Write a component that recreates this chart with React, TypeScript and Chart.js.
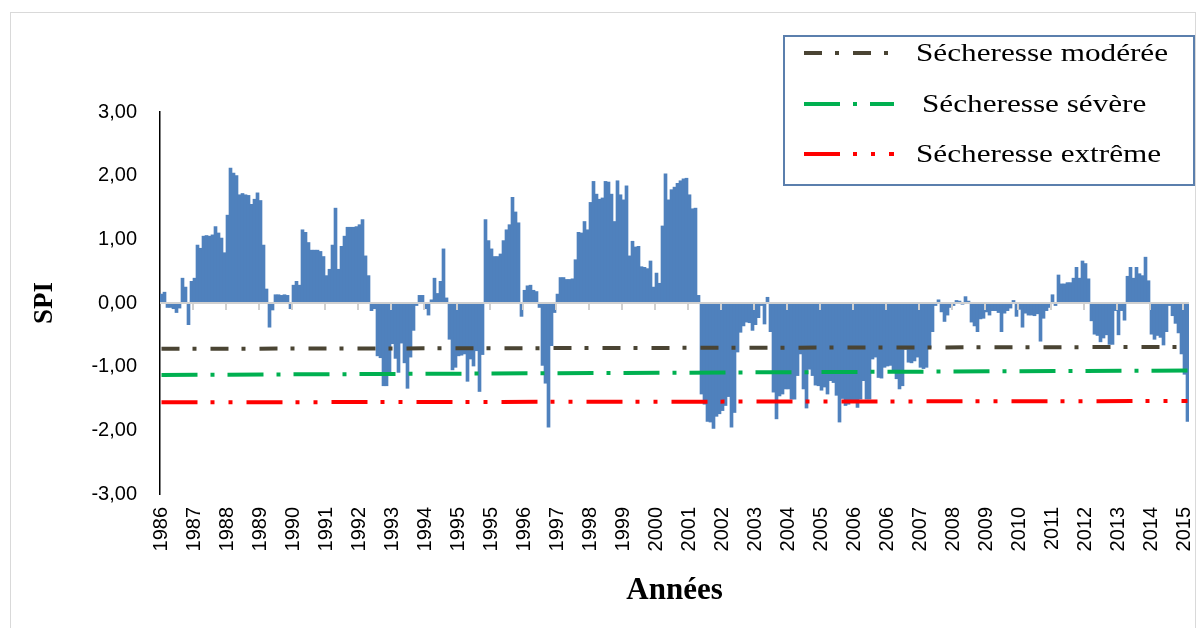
import React, { useEffect, useRef } from "react";
import { Chart, registerables } from "chart.js";

Chart.register(...registerables);

// ---- Tick labels (every 11th month is labelled on the category axis) ----
const xTickLabels = [
  "1986", "1987", "1988", "1989", "1990", "1991", "1992", "1993", "1994", "1995",
  "1995", "1996", "1997", "1998", "1999", "2000", "2001", "2002", "2003", "2004",
  "2005", "2006", "2006", "2007", "2008", "2009", "2010", "2011", "2012", "2013",
  "2014", "2015",
];
const LABEL_EVERY = 11;
const yTicks = [-3, -2, -1, 0, 1, 2, 3];

// ---- Monthly SPI values ----
const spi1986_1989 = [
  0.14, 0.17, -0.07, -0.07, -0.09, -0.15, -0.08, 0.39, 0.25, -0.34, 0.34, 0.39,
  0.91, 0.86, 1.05, 1.06, 1.05, 1.07, 1.2, 1.1, 1.02, 0.79, 1.38, 2.12,
  2.04, 2.0, 1.7, 1.72, 1.7, 1.69, 1.55, 1.63, 1.73, 1.61, 0.91, 0.22,
  -0.38, -0.11, 0.13, 0.13, 0.12, 0.13, 0.12, -0.09,
];
const spi1990_1993 = [
  0.28, 0.34, 0.28, 1.15, 1.11, 0.95, 0.83, 0.83, 0.83, 0.81, 0.73, 0.43,
  0.53, 0.91, 1.49, 0.53, 0.89, 1.05, 1.19, 1.19, 1.19, 1.2, 1.23, 1.31,
  0.74, 0.43, -0.12, -0.09, -0.83, -0.86, -1.3, -1.3, -1.09, -0.64, -0.87, -1.09,
  -0.63, -0.94, -1.34, -0.85, -0.43, -0.04,
];
const spi1994_1997 = [
  0.12, 0.12, -0.09, -0.19, 0.05, 0.39, 0.15, 0.34, 0.85, 0.08, -0.57, -1.05,
  -1.01, -0.83, -0.82, -0.8, -1.23, -0.88, -0.99, -0.75, -1.39, -0.81, 1.31, 0.98,
  0.85, 0.73, 0.73, 0.77, 0.98, 1.15, 1.23, 1.66, 1.43, 1.26, -0.21, 0.2,
  0.27, 0.28, 0.2, 0.18, -0.07, -0.98, -1.26, -1.95, -0.67, -0.15,
];
const spi1997_2001 = [
  0.14, 0.4, 0.4, 0.37, 0.37, 0.38, 0.68, 1.11, 1.1, 1.28, 1.15, 1.58,
  1.91, 1.71, 1.63, 1.65, 1.91, 1.9, 1.71, 1.28, 1.92, 1.7, 1.62, 1.84,
  0.74, 0.97, 0.88, 0.89, 0.57, 0.56, 0.54, 0.66, 0.25, 0.47, 0.31, 1.21,
  2.03, 1.62, 1.78, 1.82, 1.88, 1.92, 1.95, 1.96, 1.7, 1.48, 1.49, 0.12,
];
const spi2001_2005 = [
  -1.43, -1.59, -1.86, -1.87, -1.97, -1.78, -1.74, -1.69, -1.61, -1.47, -1.95, -1.72,
  -0.77, -0.46, -0.36, -0.3, -0.31, -0.43, -0.34, -0.23, -0.04, -0.33, 0.09, -0.45,
  -1.4, -1.82, -1.46, -1.43, -1.35, -1.35, -1.51, -1.51, -1.14, -0.8, -1.35, -1.65,
  -1.04, -1.14, -1.29, -1.3, -1.37, -1.32, -1.43, -1.22, -1.25, -1.45, -1.87, -1.5,
];
const spi2005_2008 = [
  -1.61, -1.59, -1.56, -1.56, -1.64, -1.51, -1.22, -1.51, -1.51, -0.88, -0.85, -1.17,
  -1.18, -1.01, -0.99, -0.98, -1.06, -1.19, -1.35, -1.3, -0.73, -0.93, -0.94, -0.91,
  -0.85, -1.01, -1.03, -1.01, -0.7, -0.45, -0.04, 0.05,
];
const spi2008_2011 = [
  -0.14, -0.29, -0.19, -0.07, -0.04, 0.04, 0.03, -0.02, 0.1, 0.03, -0.3, -0.36,
  -0.45, -0.25, -0.24, -0.14, -0.19, -0.12, -0.12, -0.15, -0.45, -0.16, -0.12, -0.08,
  0.04, -0.21, -0.1, -0.38, -0.16, -0.19, -0.19, -0.2, -0.17, -0.6, -0.24, -0.12,
  -0.07, 0.13, -0.04,
];
const spi2011_2015 = [
  0.44, 0.3, 0.3, 0.32, 0.32, 0.39, 0.56, 0.39, 0.66, 0.62, 0.38, -0.28,
  -0.49, -0.51, -0.61, -0.55, -0.5, -0.65, -0.65, -0.12, -0.5, -0.12, -0.27, 0.42,
  0.56, 0.39, 0.56, 0.46, 0.43, 0.72, 0.35, -0.49, -0.57, -0.51, -0.54, -0.66,
  -0.45, -0.04, -0.2, -0.32, -0.47, -0.8, -1.12, -1.86,
];

const spiValues = [
  ...spi1986_1989, ...spi1990_1993, ...spi1994_1997, ...spi1997_2001,
  ...spi2001_2005, ...spi2005_2008, ...spi2008_2011, ...spi2011_2015,
];
const categories = spiValues.map((_, i) => String(i));

// ---- Drought threshold lines (value at the start and at the end) ----
const thresholdNames = ["Sécheresse modérée", "Sécheresse sévère", "Sécheresse extrême"];
const thresholdStart = [-0.72, -1.13, -1.56];
const thresholdEnd = [-0.69, -1.06, -1.54];

// ---- Styles ----
const BAR_COLOR = "#4f81bd";
const LINE_COLORS = ["#4a4433", "#00b050", "#ff0000"];
const LINE_DASHES = [
  [18, 13, 4, 14],
  [36, 13, 4, 13],
  [36, 13, 4, 14, 4, 14],
];

function endpointsSeries(start: number, end: number): (number | null)[] {
  const arr: (number | null)[] = categories.map(() => null);
  arr[0] = start;
  arr[arr.length - 1] = end;
  return arr;
}

const axisDecor = {
  id: "axisDecor",
  beforeDraw(chart: any) {
    const ctx = chart.ctx;
    ctx.save();
    ctx.strokeStyle = "#d9d9d9";
    ctx.lineWidth = 1;
    ctx.strokeRect(10.5, 12.5, 1185, 640);
    ctx.restore();
  },
  afterDatasetsDraw(chart: any) {
    const ctx = chart.ctx;
    const xs = chart.scales.x;
    const ys = chart.scales.y;
    const area = chart.chartArea;
    const y0 = ys.getPixelForValue(0);
    ctx.save();
    ctx.strokeStyle = "#d0d0d0";
    ctx.lineWidth = 2;
    ctx.beginPath();
    ctx.moveTo(area.left, y0);
    ctx.lineTo(area.right, y0);
    ctx.stroke();
    const half = (xs.getPixelForValue(1) - xs.getPixelForValue(0)) / 2;
    for (let k = 1; k < xTickLabels.length; k++) {
      const x = Math.round(xs.getPixelForValue(k * LABEL_EVERY) - half);
      ctx.beginPath();
      ctx.moveTo(x, y0);
      ctx.lineTo(x, y0 + 7);
      ctx.stroke();
    }
    ctx.restore();
  },
};

const boxLegend = {
  id: "boxLegend",
  afterDraw(chart: any) {
    const ctx = chart.ctx;
    ctx.save();
    ctx.strokeStyle = "#5b7fad";
    ctx.lineWidth = 2;
    ctx.strokeRect(784, 36, 410, 149);
    const rowsY = [53, 104, 154];
    const textX = [916, 922, 916];
    thresholdNames.forEach((name, j) => {
      const y = rowsY[j];
      ctx.setLineDash(LINE_DASHES[j]);
      ctx.strokeStyle = LINE_COLORS[j];
      ctx.lineWidth = 4;
      ctx.lineCap = "butt";
      ctx.beginPath();
      ctx.moveTo(804, y);
      ctx.lineTo(894, y);
      ctx.stroke();
      ctx.setLineDash([]);
      ctx.save();
      ctx.translate(textX[j], y);
      ctx.scale(1.2, 1);
      ctx.fillStyle = "#000";
      ctx.font = '26px "Liberation Serif", "DejaVu Serif", serif';
      ctx.textBaseline = "middle";
      ctx.textAlign = "left";
      ctx.fillText(name, 0, 1);
      ctx.restore();
    });
    ctx.restore();
  },
};

export default function App() {
  const ref = useRef<HTMLCanvasElement | null>(null);

  useEffect(() => {
    if (!ref.current) return;
    const lineSets = thresholdNames.map((name, j) => ({
      type: "line" as const,
      label: name,
      data: endpointsSeries(thresholdStart[j], thresholdEnd[j]),
      borderColor: LINE_COLORS[j],
      borderWidth: 4,
      borderDash: LINE_DASHES[j],
      borderCapStyle: "butt" as const,
      pointRadius: 0,
      spanGaps: true,
      fill: false,
      order: 0,
    }));
    const chart = new Chart(ref.current, {
      type: "bar",
      data: {
        labels: categories,
        datasets: [
          {
            type: "bar" as const,
            label: "SPI",
            data: spiValues,
            backgroundColor: BAR_COLOR,
            borderWidth: 0,
            barPercentage: 1,
            categoryPercentage: 1,
            order: 1,
          },
          ...lineSets,
        ] as any,
      },
      options: {
        responsive: false,
        animation: false,
        devicePixelRatio: 1,
        layout: { padding: { left: 0, right: 15, top: 112, bottom: 0 } },
        plugins: {
          legend: { display: false },
          tooltip: { enabled: false },
        },
        scales: {
          x: {
            type: "category",
            offset: true,
            grid: { display: false, drawTicks: false },
            border: { display: false },
            ticks: {
              autoSkip: false,
              maxRotation: 90,
              minRotation: 90,
              padding: 13,
              color: "#000",
              font: { family: '"Liberation Sans", Arial, sans-serif', size: 20 },
              callback: (_v: any, idx: number) =>
                idx % LABEL_EVERY === 0 ? xTickLabels[idx / LABEL_EVERY] ?? "" : "",
            },
            title: {
              display: true,
              text: "Années",
              color: "#000",
              font: { family: '"Liberation Serif", "DejaVu Serif", serif', size: 31, weight: "bold" },
              padding: { top: 0, bottom: 18 },
            },
            afterFit: (s: any) => {
              s.height = 628 - 494;
              s.paddingLeft = 0;
              s.paddingRight = 0;
            },
          },
          y: {
            min: -3,
            max: 3,
            afterBuildTicks: (s: any) => {
              s.ticks = yTicks.map((v) => ({ value: v }));
            },
            grid: { display: false, drawTicks: false },
            border: { display: true, color: "#000", width: 1.5 },
            ticks: {
              padding: 23,
              color: "#000",
              font: { family: '"Liberation Sans", Arial, sans-serif', size: 20 },
              callback: (v: any) => Number(v).toFixed(2).replace(".", ","),
            },
            title: {
              display: true,
              text: "SPI",
              color: "#000",
              font: { family: '"Liberation Serif", "DejaVu Serif", serif', size: 27, weight: "bold" },
              padding: { top: 29, bottom: 0 },
            },
            afterFit: (s: any) => {
              s.width = 160;
            },
          },
        },
      },
      plugins: [axisDecor, boxLegend],
    });
    return () => chart.destroy();
  }, []);

  return (
    <div style={{ position: "absolute", left: 0, top: 0, width: 1204, height: 628, background: "#fff" }}>
      <canvas ref={ref} width={1204} height={628} style={{ width: 1204, height: 628, display: "block" }} />
    </div>
  );
}
